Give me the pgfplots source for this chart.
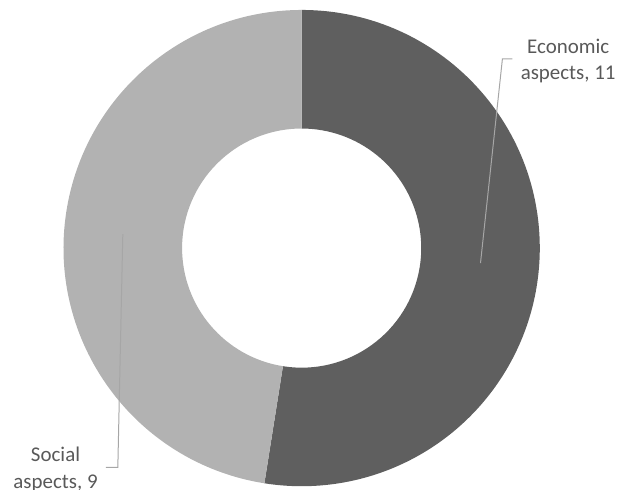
\documentclass[border=0pt]{standalone}
\usepackage{fontspec}
\setmainfont{Carlito}
\usepackage{pgfplots}
\usepackage{pgfplotstable}
\pgfplotsset{compat=1.18}
\definecolor{econ}{HTML}{5F5F5F}
\definecolor{soc}{HTML}{B2B2B2}
\definecolor{lead}{HTML}{A6A6A6}
\definecolor{txt}{HTML}{595959}
\pgfplotstableread{
label value
Economic 10.5
Social 9.5
}\piedata
\begin{document}
\pgfplotstablegetelem{0}{value}\of\piedata \let\va\pgfplotsretval
\pgfplotstablegetelem{1}{value}\of\piedata \let\vb\pgfplotsretval
\pgfmathsetmacro\angA{90-360*\va/(\va+\vb)}
\begin{tikzpicture}
\begin{axis}[x=1pt, y=1pt, xmin=0, xmax=617, ymin=0, ymax=491,
  hide axis, clip=false, scale only axis]
\coordinate (ll) at (axis cs:0,0);
\coordinate (ur) at (axis cs:617,491);
\fill[econ] (axis cs:300.5,242) ++(90:239pt) arc[start angle=90,end angle=\angA,radius=239pt]
  -- ++(\angA:-119pt) arc[start angle=\angA,end angle=90,radius=120pt] -- cycle;
\fill[soc] (axis cs:300.5,242) ++(\angA:239pt) arc[start angle=\angA,end angle=-270,radius=239pt]
  -- ++(-270:-119pt) arc[start angle=-270,end angle=\angA,radius=120pt] -- cycle;
\addplot[lead, line width=1pt, mark=none] coordinates {(512,432) (502,432) (480,227)};
\addplot[lead, line width=1pt, mark=none] coordinates {(121,256) (116,22) (104,22)};
\node[txt, align=center, inner sep=0pt, font=\fontsize{21}{26.5}\selectfont] at (axis cs:568,430) {Economic\\aspects, 11};
\node[txt, align=center, inner sep=0pt, font=\fontsize{21}{26.5}\selectfont] at (axis cs:53.5,20) {Social\\aspects, 9};
\end{axis}
\pgfresetboundingbox
\useasboundingbox (ll) rectangle (ur);
\end{tikzpicture}
\end{document}
